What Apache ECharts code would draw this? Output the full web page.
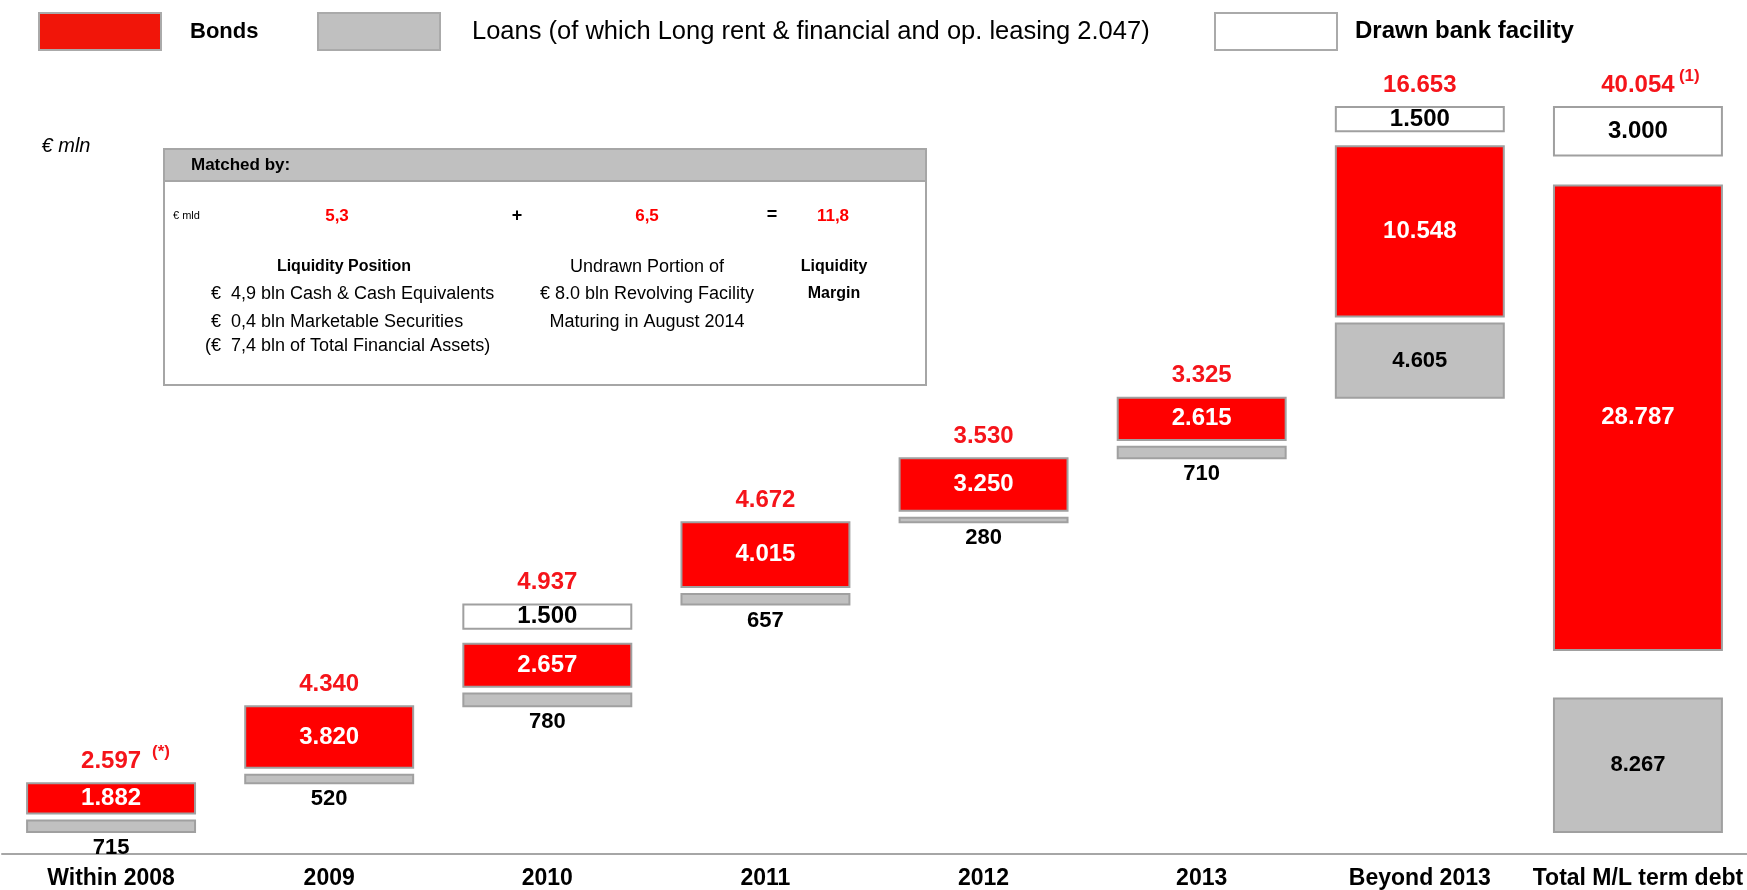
<!DOCTYPE html>
<html>
<head>
<meta charset="utf-8">
<script src="https://cdn.jsdelivr.net/npm/echarts@6/dist/echarts.min.js"></script>
<style>
  html, body { margin: 0; padding: 0; background: #fff; }
  #chart { width: 1747px; height: 890px; }
</style>
</head>
<body>
<div id="chart"></div>
<script>
// data (€ mln)
var categories = ['Within 2008', '2009', '2010', '2011', '2012', '2013', 'Beyond 2013', 'Total M/L term debt'];
var loans  = [715, 520, 780, 657, 280, 710, 4605, 8267];
var bonds  = [1882, 3820, 2657, 4015, 3250, 2615, 10548, 28787];
var drawn  = [0, 0, 1500, 0, 0, 0, 1500, 3000];
var totals = [2597, 4340, 4937, 4672, 3530, 3325, 16653, 40054];
var totalNotes = ['(*)', '', '', '', '', '', '', '(1)'];

var FONT = "'Liberation Sans', Arial, sans-serif";
// visual gaps between stacked boxes, in value units
var GAP_LB = 430, GAP_BD = 930;

function fmt(v) {
    return String(v).replace(/\B(?=(\d{3})+(?!\d))/g, '.');
}

// waterfall layout: each year starts where the previous ended, the total starts from 0
var loanData = [], bondData = [], drawnData = [], topData = [];
var last = categories.length - 1;
(function () {
    var base = 0, nLB = 0, nBD = 0;
    for (var i = 0; i < last; i++) {
        var l1 = base + loans[i];
        var b0 = l1 + GAP_LB, b1 = b0 + bonds[i];
        var colTop = b1;
        nLB++;
        if (drawn[i] > 0) {
            var d0 = b1 + GAP_BD;
            colTop = d0 + drawn[i];
            drawnData.push([i, d0, colTop, drawn[i]]);
            nBD++;
        }
        loanData.push([i, base, l1, loans[i]]);
        bondData.push([i, b0, b1, bonds[i]]);
        topData.push([i, colTop, totals[i]]);
        base = colTop;
    }
    var tl1 = loans[last];
    var tb0 = tl1 + nLB * GAP_LB, tb1 = tb0 + bonds[last];
    var td0 = tb1 + nBD * GAP_BD, td1 = td0 + drawn[last];
    loanData.push([last, 0, tl1, loans[last]]);
    bondData.push([last, tb0, tb1, bonds[last]]);
    drawnData.push([last, td0, td1, drawn[last]]);
    topData.push([last, td1, totals[last]]);
})();
var yMax = topData[last][1];

function segRenderer(fill, labelColor, fontSize, labelOutside) {
    return function (params, api) {
        var p0 = api.coord([api.value(0), api.value(1)]);
        var p1 = api.coord([api.value(0), api.value(2)]);
        var w = api.size([1, 0])[0] * 0.77;
        var h = p0[1] - p1[1];
        var below = labelOutside && h < 40;
        return {
            type: 'rect',
            shape: { x: p0[0] - w / 2, y: p1[1], width: w, height: h },
            style: { fill: fill, stroke: '#a0a0a0', lineWidth: 2 },
            textContent: {
                type: 'text',
                style: {
                    text: fmt(api.value(3)),
                    fill: labelColor,
                    font: 'bold ' + fontSize + 'px ' + FONT
                }
            },
            textConfig: { position: below ? 'bottom' : 'inside', distance: 4 }
        };
    };
}

function topRenderer(params, api) {
    var idx = params.dataIndex;
    var p = api.coord([api.value(0), api.value(1)]);
    var note = totalNotes[idx];
    var children = [{
        type: 'text',
        x: p[0], y: p[1] - 22,
        style: {
            text: fmt(api.value(2)), fill: '#f5141a',
            font: 'bold 24px ' + FONT,
            textAlign: 'center', textVerticalAlign: 'middle'
        }
    }];
    if (note) {
        children.push({
            type: 'text',
            x: p[0] + 41, y: p[1] - 31,
            style: {
                text: note, fill: '#f5141a',
                font: 'bold 17px ' + FONT,
                textAlign: 'left', textVerticalAlign: 'middle'
            }
        });
    }
    return { type: 'group', children: children };
}

function legendItem(left, name, color, pad, weight, size) {
    return {
        left: left, top: 12, padding: 0,
        itemWidth: 122, itemHeight: 37,
        selectedMode: false,
        data: [{ name: name, icon: 'rect', itemStyle: { color: color, borderColor: '#aaaaaa', borderWidth: 2 } }],
        textStyle: { fontSize: size, fontWeight: weight, color: '#000', fontFamily: FONT, padding: [0, 0, 0, pad] }
    };
}

function txt(x, y, text, font, fill, align) {
    return {
        type: 'text', x: x, y: y,
        style: {
            text: text, fill: fill || '#000', font: (font || '18px') + ' ' + FONT,
            textAlign: align || 'center', textVerticalAlign: 'middle'
        }
    };
}

var LOANS_NAME = 'Loans (of which Long rent & financial and op. leasing 2.047)';

var option = {
    animation: false,
    backgroundColor: '#fff',
    grid: { left: 2, width: 1754, top: 107, bottom: 58, containLabel: false },
    legend: [
        legendItem(38, 'Bonds', '#f11509', 24, 'bold', 22),
        legendItem(317, LOANS_NAME, '#c0c0c0', 27, 'normal', 25.5),
        legendItem(1214, 'Drawn bank facility', '#ffffff', 13, 'bold', 24)
    ],
    xAxis: {
        type: 'category',
        data: categories,
        offset: 22,
        axisLine: { onZero: false, lineStyle: { color: '#a6a6a6', width: 2 } },
        axisTick: { show: false },
        axisLabel: { interval: 0, margin: 13, fontSize: 23, fontWeight: 'bold', color: '#000', fontFamily: FONT }
    },
    yAxis: { type: 'value', min: 0, max: yMax, show: false },
    graphic: [
        txt(66, 146, '€ mln', 'italic 20px'),
        { type: 'rect', shape: { x: 164, y: 149, width: 762, height: 236 }, style: { fill: '#fff', stroke: '#a6a6a6', lineWidth: 2 } },
        { type: 'rect', shape: { x: 164, y: 149, width: 762, height: 32 }, style: { fill: '#c0c0c0', stroke: '#a6a6a6', lineWidth: 2 } },
        txt(191, 165, 'Matched by:', 'bold 17px', null, 'left'),
        txt(173, 216, '€ mld', '11px', null, 'left'),
        txt(337, 216, '5,3', 'bold 17px', '#ff0000'),
        txt(517, 216, '+', 'bold 18px'),
        txt(772, 215, '=', 'bold 18px'),
        txt(647, 216, '6,5', 'bold 17px', '#ff0000'),
        txt(833, 216, '11,8', 'bold 17px', '#ff0000'),
        txt(344, 267, 'Liquidity Position', 'bold 16px'),
        txt(211, 294, '€  4,9 bln Cash & Cash Equivalents', null, null, 'left'),
        txt(211, 322, '€  0,4 bln Marketable Securities', null, null, 'left'),
        txt(205, 346, '(€  7,4 bln of Total Financial Assets)', null, null, 'left'),
        txt(647, 267, 'Undrawn Portion of'),
        txt(647, 294, '€ 8.0 bln Revolving Facility'),
        txt(647, 322, 'Maturing in August 2014'),
        txt(834, 267, 'Liquidity', 'bold 16px'),
        txt(834, 294, 'Margin', 'bold 16px')
    ],
    series: [
        {
            name: LOANS_NAME, type: 'custom', itemStyle: { color: '#c0c0c0' },
            renderItem: segRenderer('#c0c0c0', '#000', 22, true),
            encode: { x: 0, y: [1, 2] }, data: loanData
        },
        {
            name: 'Bonds', type: 'custom', itemStyle: { color: '#ff0000' },
            renderItem: segRenderer('#ff0000', '#fff', 24, false),
            encode: { x: 0, y: [1, 2] }, data: bondData
        },
        {
            name: 'Drawn bank facility', type: 'custom', itemStyle: { color: '#ffffff' },
            renderItem: segRenderer('#ffffff', '#000', 24, false),
            encode: { x: 0, y: [1, 2] }, data: drawnData
        },
        {
            name: 'totals', type: 'custom',
            renderItem: topRenderer,
            encode: { x: 0, y: 1 }, data: topData
        }
    ]
};

var myChart = echarts.init(document.getElementById('chart'));
myChart.setOption(option);
</script>
</body>
</html>
